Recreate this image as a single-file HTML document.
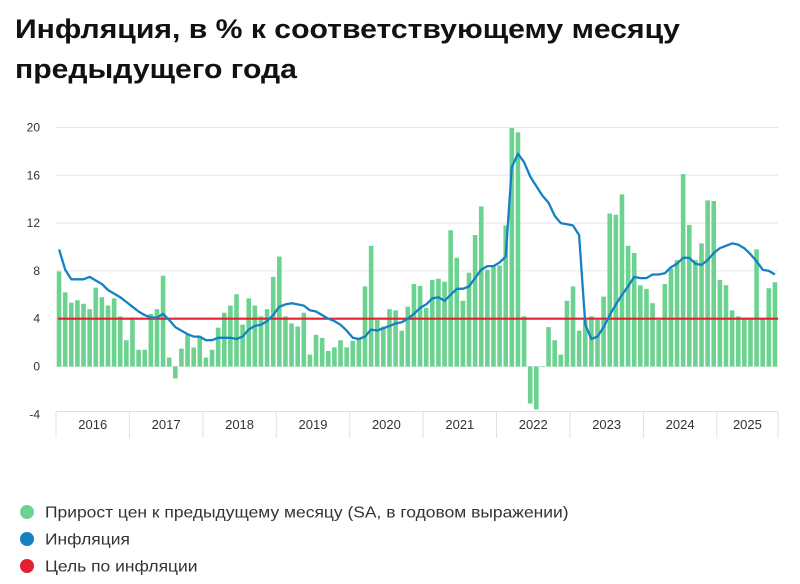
<!DOCTYPE html>
<html><head><meta charset="utf-8">
<style>
body{margin:0;background:#fff;width:800px;height:584px;overflow:hidden;font-family:"Liberation Sans",sans-serif;}
#title{position:absolute;left:15px;top:9px;margin:0;font-size:27px;font-weight:bold;line-height:40px;color:#111;transform:scaleX(1.117);transform-origin:0 0;white-space:nowrap;}
svg{position:absolute;left:0;top:0;}
</style></head><body>
<h1 id="title">Инфляция, в % к соответствующему месяцу<br>предыдущего года</h1>
<svg id="chart" width="800" height="584"></svg>
<script>
const years = ["2016","2017","2018","2019","2020","2021","2022","2023","2024","2025"];
const yTicks = [-4,0,4,8,12,16,20];
const momSA = [
7.95,6.2,5.35,5.55,5.25,4.8,6.6,5.8,5.1,5.7,4.2,2.2,
4.1,1.4,1.4,4.4,4.8,7.6,0.75,-1.0,1.5,2.65,1.6,2.45,
0.75,1.4,3.25,4.5,5.1,6.05,3.5,5.7,5.1,4.2,4.8,7.5,
9.2,4.2,3.6,3.35,4.5,1.0,2.65,2.4,1.3,1.6,2.2,1.6,
2.15,2.4,6.7,10.1,3.9,3.35,4.8,4.7,3.0,5.0,6.9,6.75,
4.9,7.25,7.35,7.1,11.4,9.1,5.5,7.85,11.0,13.4,8.1,8.4,
8.45,11.8,19.95,19.6,4.2,-3.1,-3.6,-0.05,3.3,2.2,1.0,5.5,
6.7,3.0,3.9,4.2,3.9,5.85,12.8,12.7,14.4,10.1,9.5,6.8,
6.5,5.3,3.9,6.9,8.2,8.9,16.1,11.85,8.9,10.3,13.9,13.85,
7.25,6.8,4.7,4.2,4.0,4.0,9.8,4.0,6.55,7.05];
const inflation = [
9.8,8.1,7.3,7.3,7.3,7.5,7.2,6.9,6.4,6.1,5.8,5.4,
5.0,4.6,4.3,4.1,4.1,4.4,3.9,3.3,3.0,2.7,2.5,2.5,
2.2,2.2,2.4,2.4,2.4,2.3,2.5,3.1,3.4,3.5,3.8,4.3,
5.0,5.2,5.3,5.2,5.1,4.7,4.6,4.3,4.0,3.8,3.5,3.0,
2.4,2.3,2.5,3.1,3.0,3.2,3.4,3.6,3.7,4.0,4.4,4.9,
5.2,5.7,5.8,5.5,6.0,6.5,6.5,6.7,7.4,8.1,8.4,8.4,
8.7,9.2,16.7,17.8,17.1,15.9,15.1,14.3,13.7,12.6,12.0,11.9,
11.8,11.0,3.5,2.3,2.5,3.3,4.3,5.2,6.0,6.7,7.5,7.4,
7.4,7.7,7.7,7.8,8.3,8.6,9.1,9.1,8.6,8.5,8.9,9.5,
9.9,10.1,10.3,10.2,9.9,9.4,8.8,8.1,8.0,7.7];
const target = [4];
const legendLabels = ["Прирост цен к предыдущему месяцу (SA, в годовом выражении)","Инфляция","Цель по инфляции"];

const NS="http://www.w3.org/2000/svg";
const svg=document.getElementById('chart');
const X0=56, X1=778, Y0=366.5, PX=11.95;
const step=(X1-X0)/118;
function xs(i){return X0+(i+0.5)*step;}
function ys(v){return Y0-v*PX;}
function mk(t,a){const e=document.createElementNS(NS,t);for(const k in a)e.setAttribute(k,a[k]);svg.appendChild(e);return e;}

yTicks.forEach(v=>{
  if(v!==-4){
  const g=mk('line',{x1:X0,x2:X1,y1:ys(v),y2:ys(v),stroke:'#e4e6ea','stroke-width':1});
  
  }
  const t=mk('text',{x:40,y:ys(v)+4,'text-anchor':'end','font-size':12,fill:'#333','font-family':'Liberation Sans, sans-serif'});
  t.textContent=v;
  
  
});
const band=mk('line',{x1:X0,x2:X1,y1:411.5,y2:411.5,stroke:'#dde0e5','stroke-width':1});


years.forEach((y,k)=>{
  const bx=X0+12*k*step;
  const l=mk('line',{x1:bx,x2:bx,y1:411.5,y2:438,stroke:'#dde0e5','stroke-width':1});
  
  
  const end=Math.min(X0+12*(k+1)*step,X1);
  const t=mk('text',{x:(bx+end)/2,y:429,'text-anchor':'middle','font-size':13,fill:'#333','font-family':'Liberation Sans, sans-serif'});
  t.textContent=y;
  
  
});
const lastSep=mk('line',{x1:X1,x2:X1,y1:411.5,y2:438,stroke:'#dde0e5','stroke-width':1});



momSA.forEach((v,i)=>{
  const y=Math.min(ys(v),ys(0)), h=Math.max(Math.abs(ys(v)-ys(0)),0.6);
  const r=mk('rect',{x:xs(i)-2.3,y:y,width:4.6,height:h,fill:'#6cd28f'});
  
  
});
const tl=mk('line',{x1:X0+2,x2:X1,y1:ys(target[0]),y2:ys(target[0]),stroke:'#e3202f','stroke-width':2.2});


const pl=mk('polyline',{points:inflation.map((v,i)=>xs(i).toFixed(1)+','+ys(v).toFixed(1)).join(' '),fill:'none',stroke:'#1581c4','stroke-width':2.3,'stroke-linejoin':'round'});



const colors=['#6cd28f','#1581c4','#e3202f'];
legendLabels.forEach((lab,k)=>{
  const cy=512+27*k;
  const c=mk('circle',{cx:27,cy:cy,r:7,fill:colors[k]});
  
  
  const t=mk('text',{x:45,y:cy+5.5,'font-size':16,fill:'#333','font-family':'Liberation Sans, sans-serif'});
  t.textContent=lab;
  
  
  const len=t.getComputedTextLength();
  t.setAttribute('textLength',(len*1.09).toFixed(1));
  t.setAttribute('lengthAdjust','spacingAndGlyphs');
});
</script>
</body></html>
